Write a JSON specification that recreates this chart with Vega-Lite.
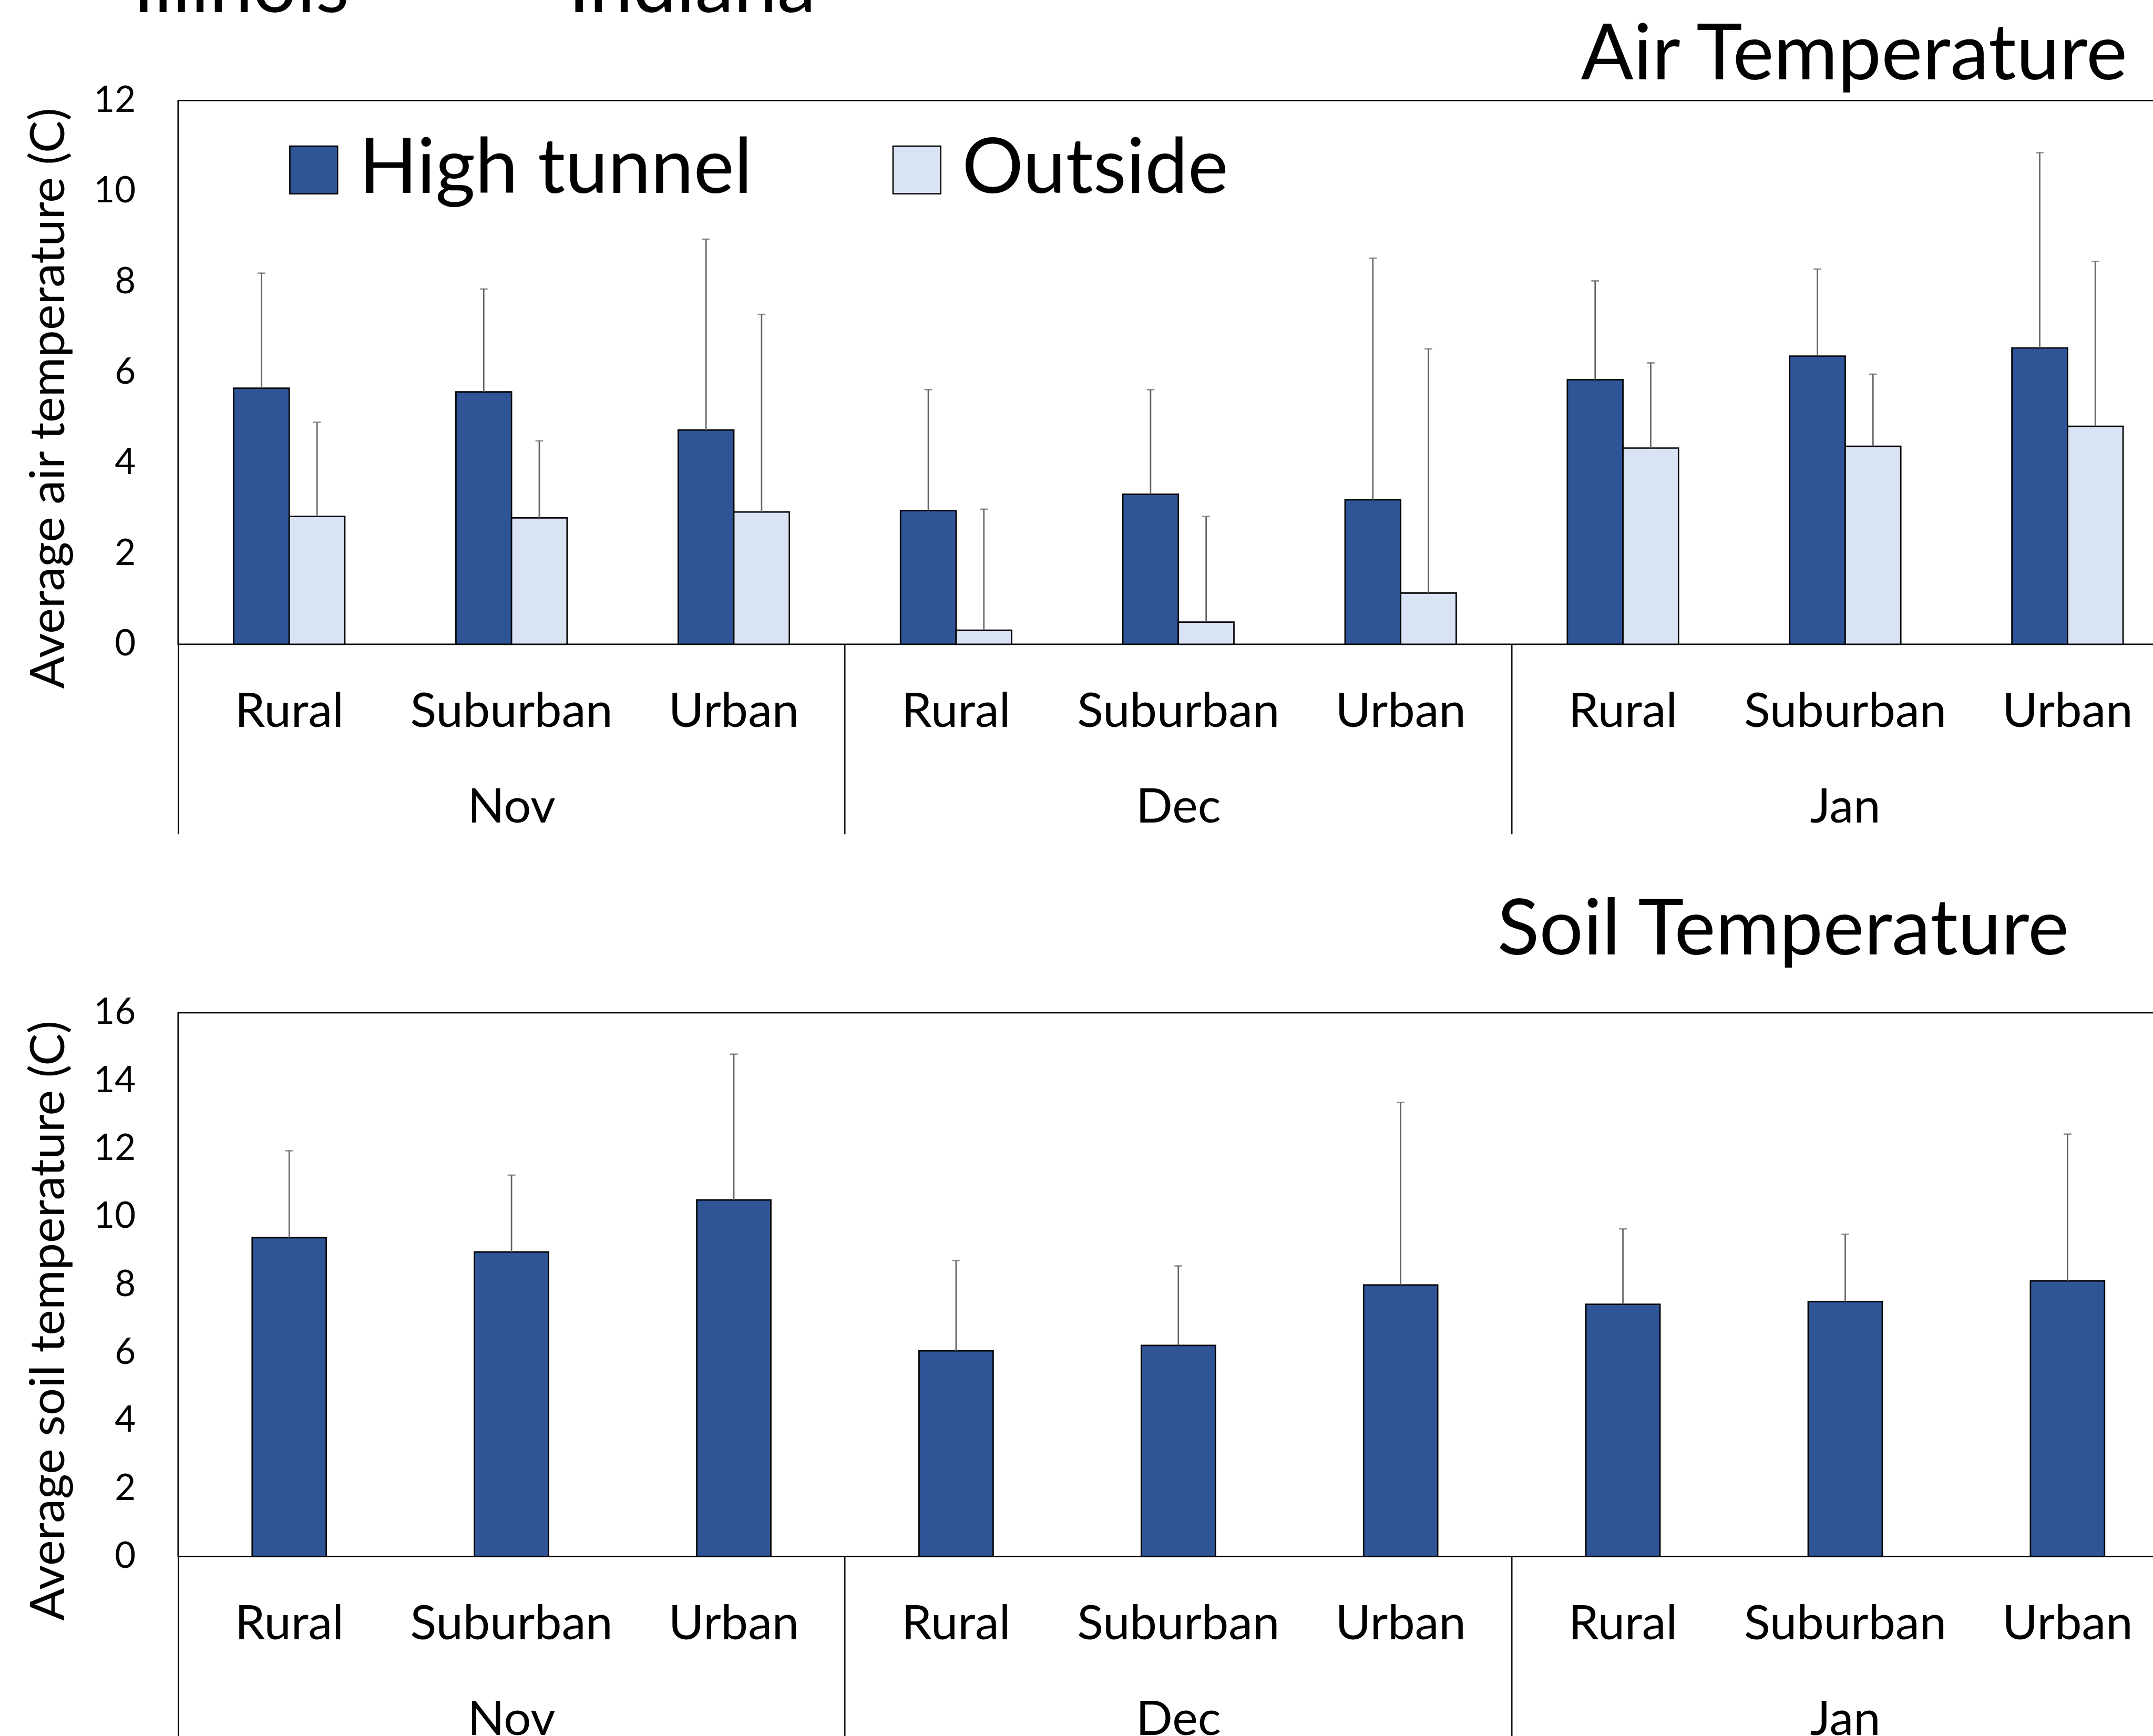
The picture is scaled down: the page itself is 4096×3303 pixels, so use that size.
{
  "$schema": "https://vega.github.io/schema/vega-lite/v6.json",
  "autosize": {"type": "pad"},
  "padding": {"left": 44.8, "top": -95.7, "right": 0, "bottom": 0},
  "background": "white",
  "spacing": 700.6,
  "bounds": "flush",
  "title": {"text": "Illinois\u00a0\u00a0\u00a0\u00a0\u00a0\u00a0\u00a0\u00a0\u00a0\u00a0\u00a0Indiana", "anchor": "start", "frame": "bounds", "baseline": "alphabetic", "offset": -139.1, "dx": 206.8, "fontSize": 148},
  "resolve": {"scale": {"xOffset": "independent", "fill": "independent"}},
  "datasets": {
    "air": [
      {"key": "Nov Rural", "series": "High tunnel", "mean": 5.65, "upper": 8.19},
      {"key": "Nov Rural", "series": "Outside", "mean": 2.82, "upper": 4.90},
      {"key": "Nov Suburban", "series": "High tunnel", "mean": 5.57, "upper": 7.84},
      {"key": "Nov Suburban", "series": "Outside", "mean": 2.79, "upper": 4.49},
      {"key": "Nov Urban", "series": "High tunnel", "mean": 4.73, "upper": 8.94},
      {"key": "Nov Urban", "series": "Outside", "mean": 2.92, "upper": 7.28},
      {"key": "Dec Rural", "series": "High tunnel", "mean": 2.95, "upper": 5.62},
      {"key": "Dec Rural", "series": "Outside", "mean": 0.31, "upper": 2.98},
      {"key": "Dec Suburban", "series": "High tunnel", "mean": 3.31, "upper": 5.62},
      {"key": "Dec Suburban", "series": "Outside", "mean": 0.49, "upper": 2.82},
      {"key": "Dec Urban", "series": "High tunnel", "mean": 3.19, "upper": 8.52},
      {"key": "Dec Urban", "series": "Outside", "mean": 1.13, "upper": 6.52},
      {"key": "Jan Rural", "series": "High tunnel", "mean": 5.84, "upper": 8.02},
      {"key": "Jan Rural", "series": "Outside", "mean": 4.33, "upper": 6.21},
      {"key": "Jan Suburban", "series": "High tunnel", "mean": 6.36, "upper": 8.28},
      {"key": "Jan Suburban", "series": "Outside", "mean": 4.37, "upper": 5.96},
      {"key": "Jan Urban", "series": "High tunnel", "mean": 6.54, "upper": 10.85},
      {"key": "Jan Urban", "series": "Outside", "mean": 4.81, "upper": 8.45}
    ],
    "soil": [
      {"key": "Nov Rural", "series": "High tunnel", "mean": 9.38, "upper": 11.94},
      {"key": "Nov Suburban", "series": "High tunnel", "mean": 8.96, "upper": 11.22},
      {"key": "Nov Urban", "series": "High tunnel", "mean": 10.49, "upper": 14.78},
      {"key": "Dec Rural", "series": "High tunnel", "mean": 6.05, "upper": 8.71},
      {"key": "Dec Suburban", "series": "High tunnel", "mean": 6.21, "upper": 8.55},
      {"key": "Dec Urban", "series": "High tunnel", "mean": 7.99, "upper": 13.36},
      {"key": "Jan Rural", "series": "High tunnel", "mean": 7.42, "upper": 9.64},
      {"key": "Jan Suburban", "series": "High tunnel", "mean": 7.50, "upper": 9.48},
      {"key": "Jan Urban", "series": "High tunnel", "mean": 8.11, "upper": 12.43}
    ]
  },
  "vconcat": [
    {
      "width": 3806,
      "height": 1034.5,
      "data": {"name": "air"},
      "title": {"text": "Air Temperature", "anchor": "end", "frame": "group", "baseline": "alphabetic", "offset": -142, "dx": -97.6, "fontSize": 148},
      "encoding": {
        "x": {
          "field": "key", "type": "nominal", "sort": null, "title": null,
          "scale": {"paddingInner": 0, "paddingOuter": 0},
          "axis": {
            "domain": false, "ticks": true, "tickSize": 361, "tickWidth": 2.4, "tickColor": "black", "bandPosition": 0,
            "tickOpacity": {"condition": {"test": "indexof(datum.value, 'Rural') >= 0", "value": 1}, "value": 0},
            "labelPadding": -276.9, "labelBaseline": "top", "labelFontSize": 92, "labelLineHeight": 181.6, "labelLimit": 2000,
            "labelAngle": 0, "labelOverlap": false, "labelBound": false,
            "labelExpr": "indexof(datum.value, 'Suburban') >= 0 ? ['Suburban', split(datum.value, ' ')[0]] : split(datum.value, ' ')[1]"
          }
        },
        "xOffset": {"field": "series", "type": "nominal", "sort": ["High tunnel", "Outside"], "scale": {"paddingInner": 0, "paddingOuter": 1.1}}
      },
      "layer": [
        {
          "mark": {"type": "bar", "stroke": "black", "strokeWidth": 2.7},
          "encoding": {
            "y": {
              "field": "mean", "type": "quantitative", "title": "Average air temperature (C)",
              "scale": {"domain": [0, 12], "nice": false},
              "axis": {"values": [0, 2, 4, 6, 8, 10, 12], "format": "d", "ticks": false, "tickSize": 0, "domain": false, "grid": false,
                "labelPadding": 81, "labelFontSize": 69, "titleFontSize": 92, "titleX": -245.8, "titleY": 566,
                "titleAngle": -90, "titleAlign": "center", "titleBaseline": "middle"}
            },
            "fill": {
              "field": "series", "type": "nominal",
              "scale": {"domain": ["High tunnel", "Outside"], "range": ["#2F5597", "#DAE3F3"]},
              "legend": {"orient": "none", "legendX": 185, "legendY": 59, "direction": "horizontal", "title": null,
                "symbolType": "square", "symbolSize": 8245, "symbolStrokeColor": "black", "symbolStrokeWidth": 2.5,
                "symbolOpacity": 1, "labelFontSize": 146, "labelOffset": 13, "columnPadding": 239.5, "labelLimit": 3000, "padding": 0}
            }
          }
        },
        {
          "mark": {"type": "rule", "color": "#636363", "strokeWidth": 2.7},
          "encoding": {
            "y": {"field": "mean", "type": "quantitative", "title": "Average air temperature (C)"},
            "y2": {"field": "upper"}
          }
        },
        {
          "mark": {"type": "tick", "color": "#636363", "thickness": 2.7, "size": 14.8, "orient": "horizontal"},
          "encoding": {
            "y": {"field": "upper", "type": "quantitative", "title": "Average air temperature (C)"}
          }
        }
      ]
    },
    {
      "width": 3806,
      "height": 1034.5,
      "data": {"name": "soil"},
      "title": {"text": "Soil Temperature", "anchor": "end", "frame": "group", "baseline": "alphabetic", "offset": -70.9, "dx": -208.6, "fontSize": 148},
      "encoding": {
        "x": {
          "field": "key", "type": "nominal", "sort": null, "title": null,
          "scale": {"paddingInner": 0, "paddingOuter": 0},
          "axis": {
            "domain": false, "ticks": true, "tickSize": 361, "tickWidth": 2.4, "tickColor": "black", "bandPosition": 0,
            "tickOpacity": {"condition": {"test": "indexof(datum.value, 'Rural') >= 0", "value": 1}, "value": 0},
            "labelPadding": -276.9, "labelBaseline": "top", "labelFontSize": 92, "labelLineHeight": 181.6, "labelLimit": 2000,
            "labelAngle": 0, "labelOverlap": false, "labelBound": false,
            "labelExpr": "indexof(datum.value, 'Suburban') >= 0 ? ['Suburban', split(datum.value, ' ')[0]] : split(datum.value, ' ')[1]"
          }
        },
        "xOffset": {"field": "series", "type": "nominal", "scale": {"paddingInner": 0, "paddingOuter": 1.1}}
      },
      "layer": [
        {
          "mark": {"type": "bar", "stroke": "black", "strokeWidth": 2.7, "fill": "#2F5597"},
          "encoding": {
            "y": {
              "field": "mean", "type": "quantitative", "title": "Average soil temperature (C)",
              "scale": {"domain": [0, 16], "nice": false},
              "axis": {"values": [0, 2, 4, 6, 8, 10, 12, 14, 16], "format": "d", "ticks": false, "tickSize": 0, "domain": false, "grid": false,
                "labelPadding": 81, "labelFontSize": 69, "titleFontSize": 92, "titleX": -245.8, "titleY": 585.4,
                "titleAngle": -90, "titleAlign": "center", "titleBaseline": "middle"}
            }
          }
        },
        {
          "mark": {"type": "rule", "color": "#636363", "strokeWidth": 2.7},
          "encoding": {
            "y": {"field": "mean", "type": "quantitative", "title": "Average soil temperature (C)"},
            "y2": {"field": "upper"}
          }
        },
        {
          "mark": {"type": "tick", "color": "#636363", "thickness": 2.7, "size": 14.8, "orient": "horizontal"},
          "encoding": {
            "y": {"field": "upper", "type": "quantitative", "title": "Average soil temperature (C)"}
          }
        }
      ]
    }
  ],
  "config": {
    "font": "Lato",
    "view": {"stroke": "black", "strokeWidth": 2.6},
    "axis": {"labelFont": "Lato", "titleFont": "Lato", "labelColor": "black", "titleColor": "black", "titleFontWeight": "normal", "grid": false},
    "legend": {"labelFont": "Lato", "labelColor": "black"},
    "title": {"font": "Lato", "fontWeight": "normal", "color": "black"}
  }
}
